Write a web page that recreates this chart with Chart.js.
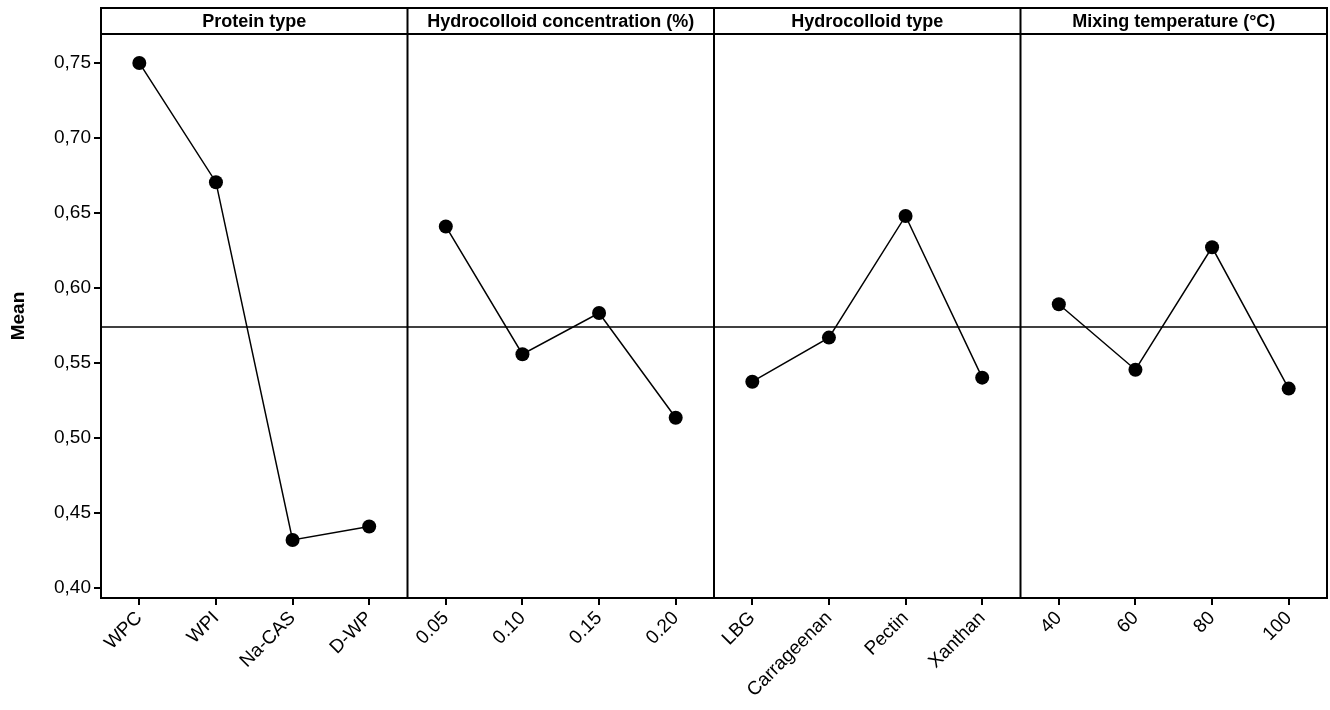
<!DOCTYPE html>
<html>
<head>
<meta charset="utf-8">
<script src="https://cdn.jsdelivr.net/npm/chart.js@4"></script>
<style>
  html, body { margin: 0; padding: 0; background: #fff; overflow: hidden; }
  #wrap { width: 1330px; height: 710px; overflow: hidden; }
  canvas { display: block; }
</style>
</head>
<body>
<div id="wrap"><canvas id="mainEffects" width="1334" height="710"></canvas></div>
<script>
// factors and their levels
const panelTitles = ['Protein type', 'Hydrocolloid concentration (%)', 'Hydrocolloid type', 'Mixing temperature (°C)'];
const proteinLevels = ['WPC', 'WPI', 'Na-CAS', 'D-WP'];
const concLevels = ['0.05', '0.10', '0.15', '0.20'];
const hydroLevels = ['LBG', 'Carrageenan', 'Pectin', 'Xanthan'];
const tempLevels = ['40', '60', '80', '100'];

// mean response per level
const proteinMeans = [0.750, 0.6705, 0.432, 0.441];
const concMeans = [0.641, 0.5558, 0.5833, 0.5135];
const hydroMeans = [0.5375, 0.5669, 0.648, 0.5402];
const tempMeans = [0.5891, 0.5455, 0.6271, 0.5329];

const grandMean = 0.574;
const yTicks = [0.40, 0.45, 0.50, 0.55, 0.60, 0.65, 0.70, 0.75];

const levelGroups = [proteinLevels, concLevels, hydroLevels, tempLevels];
const meanGroups = [proteinMeans, concMeans, hydroMeans, tempMeans];

const labels = [].concat(...levelGroups);
const datasets = meanGroups.map((means, g) => {
    const data = labels.map(() => null);
    means.forEach((v, i) => { data[g * 4 + i] = v; });
    return {
        label: panelTitles[g],
        data: data,
        borderColor: '#000',
        backgroundColor: '#000',
        borderWidth: 1.5,
        pointRadius: 7,
        pointHoverRadius: 7,
        pointBorderWidth: 0,
        tension: 0,
        spanGaps: false
    };
});

const fontFam = '"Liberation Sans", Arial, sans-serif';

const panelFrame = {
    id: 'panelFrame',
    afterDraw(chart) {
        const ctx = chart.ctx;
        const area = chart.chartArea;
        const x = chart.scales.x;
        const y = chart.scales.y;
        const stripTop = 8;
        const half = (x.getPixelForValue(1) - x.getPixelForValue(0)) / 2;

        ctx.save();
        ctx.strokeStyle = '#000';

        // grand mean reference line
        const ym = y.getPixelForValue(grandMean);
        ctx.beginPath();
        ctx.moveTo(area.left, ym);
        ctx.lineTo(area.right, ym);
        ctx.lineWidth = 1.5;
        ctx.stroke();

        // outer frame incl. header strip
        ctx.lineWidth = 2;
        ctx.strokeRect(area.left, stripTop, area.right - area.left, area.bottom - stripTop);
        ctx.beginPath();
        ctx.moveTo(area.left, area.top);
        ctx.lineTo(area.right, area.top);
        ctx.stroke();

        // panel dividers and titles
        ctx.fillStyle = '#000';
        ctx.font = 'bold 18px ' + fontFam;
        ctx.textAlign = 'center';
        ctx.textBaseline = 'middle';
        for (let g = 0; g < panelTitles.length; g++) {
            const left = x.getPixelForValue(g * 4) - half;
            const right = x.getPixelForValue(g * 4 + 3) + half;
            if (g > 0) {
                ctx.beginPath();
                ctx.moveTo(left, stripTop);
                ctx.lineTo(left, area.bottom);
                ctx.stroke();
            }
            ctx.fillText(panelTitles[g], (left + right) / 2, (stripTop + area.top) / 2 + 1);
        }
        ctx.restore();
    }
};

new Chart(document.getElementById('mainEffects'), {
    type: 'line',
    data: { labels: labels, datasets: datasets },
    options: {
        responsive: false,
        animation: false,
        events: [],
        layout: { padding: { top: 34, right: 3, left: 0, bottom: 0 } },
        plugins: {
            legend: { display: false },
            tooltip: { enabled: false }
        },
        scales: {
            x: {
                type: 'category',
                offset: true,
                border: { display: false },
                grid: { drawOnChartArea: false, drawTicks: true, tickLength: 7, color: '#000', lineWidth: 2 },
                ticks: {
                    color: '#000',
                    font: { family: fontFam, size: 19 },
                    minRotation: 45,
                    maxRotation: 45,
                    padding: 2,
                    autoSkip: false
                },
                afterFit(scale) {
                    scale.height = 112;
                }
            },
            y: {
                min: 0.3933,
                max: 0.7693,
                border: { display: false },
                grid: { drawOnChartArea: false, drawTicks: true, tickLength: 7, color: '#000', lineWidth: 2 },
                afterBuildTicks(scale) {
                    scale.ticks = yTicks.map(v => ({ value: v }));
                },
                ticks: {
                    color: '#000',
                    font: { family: fontFam, size: 19 },
                    padding: 3,
                    callback: function (value) {
                        return Number(value).toFixed(2).replace('.', ',');
                    }
                },
                title: {
                    display: true,
                    text: 'Mean',
                    color: '#000',
                    font: { family: fontFam, size: 19, weight: 'bold' },
                    padding: { top: 7, bottom: 10 }
                },
                afterFit(scale) {
                    scale.width = 101;
                }
            }
        }
    },
    plugins: [panelFrame]
});
</script>
</body>
</html>
